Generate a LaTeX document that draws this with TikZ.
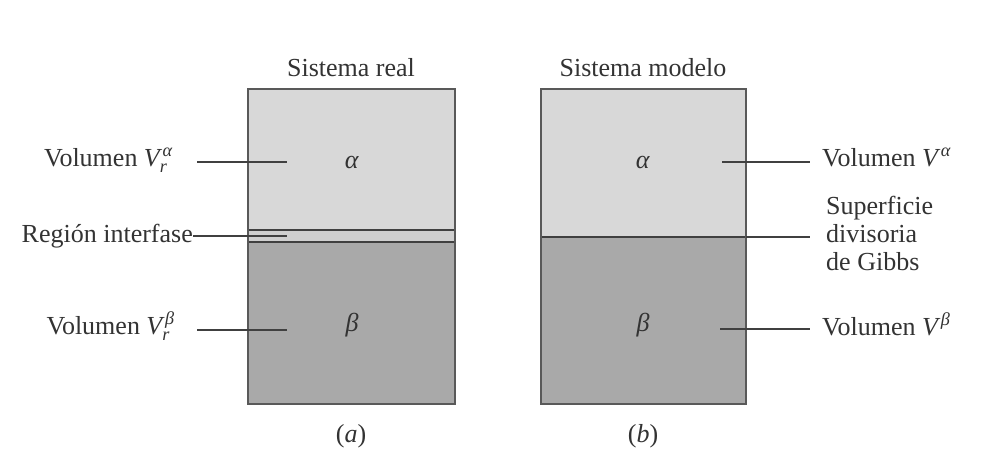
\documentclass[tikz,border=0pt]{standalone}
\usepackage{amsmath}
\usepackage{fontspec}
\setmainfont{Liberation Serif}
\newcommand{\vsym}[2]{$\textit{V}^{\,\textit{#1}}_{\textit{#2}}$}
\begin{document}
\begin{tikzpicture}[x=1pt,y=-1pt,
  lbl/.style={inner sep=0pt,font=\fontsize{26}{31}\selectfont,text=black!80},
  leader/.style={draw=black!75,line width=1.3pt},
  boxline/.style={draw=black!65,line width=1.6pt},
  divline/.style={draw=black!75,line width=2pt}]
\definecolor{topgray}{HTML}{D8D8D8}
\definecolor{botgray}{HTML}{A9A9A9}
\definecolor{intgray}{HTML}{CFCFCF}
\useasboundingbox (0,0) rectangle (1006,450);
\fill[white] (0,0) rectangle (1006,450);
% left box (real system)
\fill[topgray] (248,89) rectangle (455,230);
\fill[intgray] (248,230) rectangle (455,242);
\fill[botgray] (248,242) rectangle (455,404);
\draw[divline,line width=1.4pt] (248,230) -- (455,230);
\draw[divline] (248,242) -- (455,242);
\draw[boxline] (248,89) rectangle (455,404);
% right box (model system)
\fill[topgray] (541,89) rectangle (746,237);
\fill[botgray] (541,237) rectangle (746,404);
\draw[divline] (541,237) -- (746,237);
\draw[boxline] (541,89) rectangle (746,404);
% inner symbols
\node[lbl] (al) at (352,162) {\textit{α}};
\node[lbl] (bl) at (352,325) {\textit{β}};
\node[lbl] (ar) at (643,162) {\textit{α}};
\node[lbl] (br) at (643,325) {\textit{β}};
% titles
\node[lbl] (tl) at (351,68) {Sistema real};
\node[lbl] (tr) at (643,68) {Sistema modelo};
\node[lbl] (ca) at (351,436) {(\textit{a})};
\node[lbl] (cb) at (643,436) {(\textit{b})};
% left labels
\node[lbl,anchor=east] (lva) at (173,160) {Volumen \vsym{α}{r}};
\node[lbl,anchor=east] (lri) at (193,236) {Región interfase};
\node[lbl,anchor=east] (lvb) at (175,326) {Volumen \vsym{β}{r}};
\coordinate (pva) at (287,162);
\coordinate (pri) at (287,236);
\coordinate (pvb) at (287,330);
\draw[leader] (pva -| 197,0) -- (pva);
\draw[leader] (lri.east) -- (pri);
\draw[leader] (pvb -| 197,0) -- (pvb);
% right labels
\node[lbl,anchor=west] (rva) at (822,160) {Volumen \vsym{α}{}};
\node[lbl,anchor=west,align=left,font=\fontsize{26}{28}\selectfont] (rsd) at (826,233) {Superficie\\divisoria\\de Gibbs};
\node[lbl,anchor=west] (rvb) at (822,327) {Volumen \vsym{β}{}};
\coordinate (qva) at (722,162);
\coordinate (qsd) at (746,237);
\coordinate (qvb) at (720,329);
\draw[leader] (qva) -- (qva -| 810,0);
\draw[leader] (qsd) -- (qsd -| 810,0);
\draw[leader] (qvb) -- (qvb -| 810,0);
\end{tikzpicture}
\end{document}
